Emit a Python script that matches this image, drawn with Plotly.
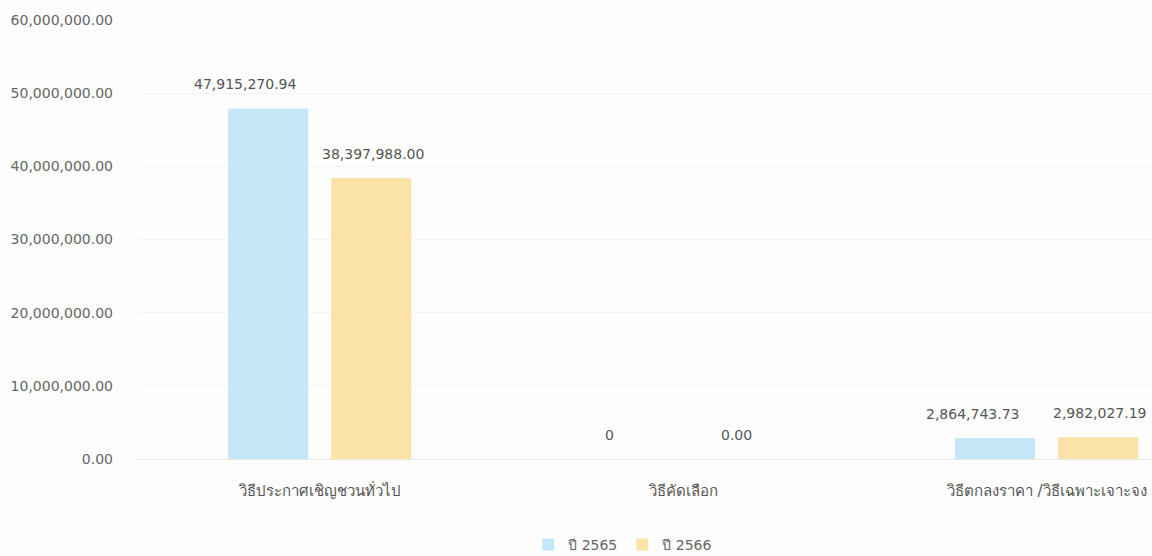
import plotly.graph_objects as go

categories = ["วิธีประกาศเชิญชวนทั่วไป", "วิธีคัดเลือก", "วิธีตกลงราคา /วิธีเฉพาะเจาะจง"]
series_names = ["ปี 2565", "ปี 2566"]
values_2565 = [47915270.94, 0, 2864743.73]
values_2566 = [38397988.00, 0.00, 2982027.19]
labels_2565 = ["47,915,270.94", "0", "2,864,743.73"]
labels_2566 = ["38,397,988.00", "0.00", "2,982,027.19"]
y_ticks = [0, 10000000, 20000000, 30000000, 40000000, 50000000, 60000000]

colors = ["#c6e7f8", "#fbe2a6"]
font_family = "'DejaVu Sans', Tahoma, 'Noto Sans', sans-serif"

fig = go.Figure()
for name, vals, col in zip(series_names, [values_2565, values_2566], colors):
    fig.add_trace(go.Bar(x=categories, y=vals, name=name, marker=dict(color=col, line=dict(width=0)),
                         hoverinfo="skip"))

annotations = []
for vals, labs, shift in [(values_2565, labels_2565, -74), (values_2566, labels_2566, 53)]:
    for c, v, t in zip(categories, vals, labs):
        annotations.append(dict(x=c, y=v, text=t, xref="x", yref="y", showarrow=False,
                                xshift=shift, yshift=24, yanchor="middle",
                                font=dict(size=14, color="#555555", family=font_family)))

fig.update_layout(
    width=1152, height=556,
    margin=dict(l=138, r=0, t=20, b=97, autoexpand=False),
    paper_bgcolor="#fdfdfd", plot_bgcolor="#fdfdfd",
    barmode="group", bargap=0.433, bargroupgap=0.223,
    font=dict(family=font_family, size=13, color="#666666"),
    annotations=annotations,
    showlegend=True,
    legend=dict(orientation="h", x=0.478, xanchor="center",
                yref="container", y=0.02, yanchor="middle",
                font=dict(size=14, color="#666666"), itemwidth=30, traceorder="normal"),
    xaxis=dict(range=[-0.5, 2.29], showgrid=False, zeroline=False, showline=False,
               ticks="outside", ticklen=18, tickcolor="rgba(0,0,0,0)",
               tickfont=dict(size=15, color="#555555")),
    yaxis=dict(range=[0, 60000000], tickvals=y_ticks, tickformat=",.2f",
               showgrid=True, gridcolor="#f3f3f3", gridwidth=1,
               zeroline=True, zerolinecolor="#e8e8e8", zerolinewidth=1,
               showline=False, ticklabelstandoff=24,
               tickfont=dict(size=14, color="#666666")),
)

fig.write_html("out.html", config={"displayModeBar": False},
               post_script="document.body.style.margin='0';document.body.style.overflow='hidden';")
